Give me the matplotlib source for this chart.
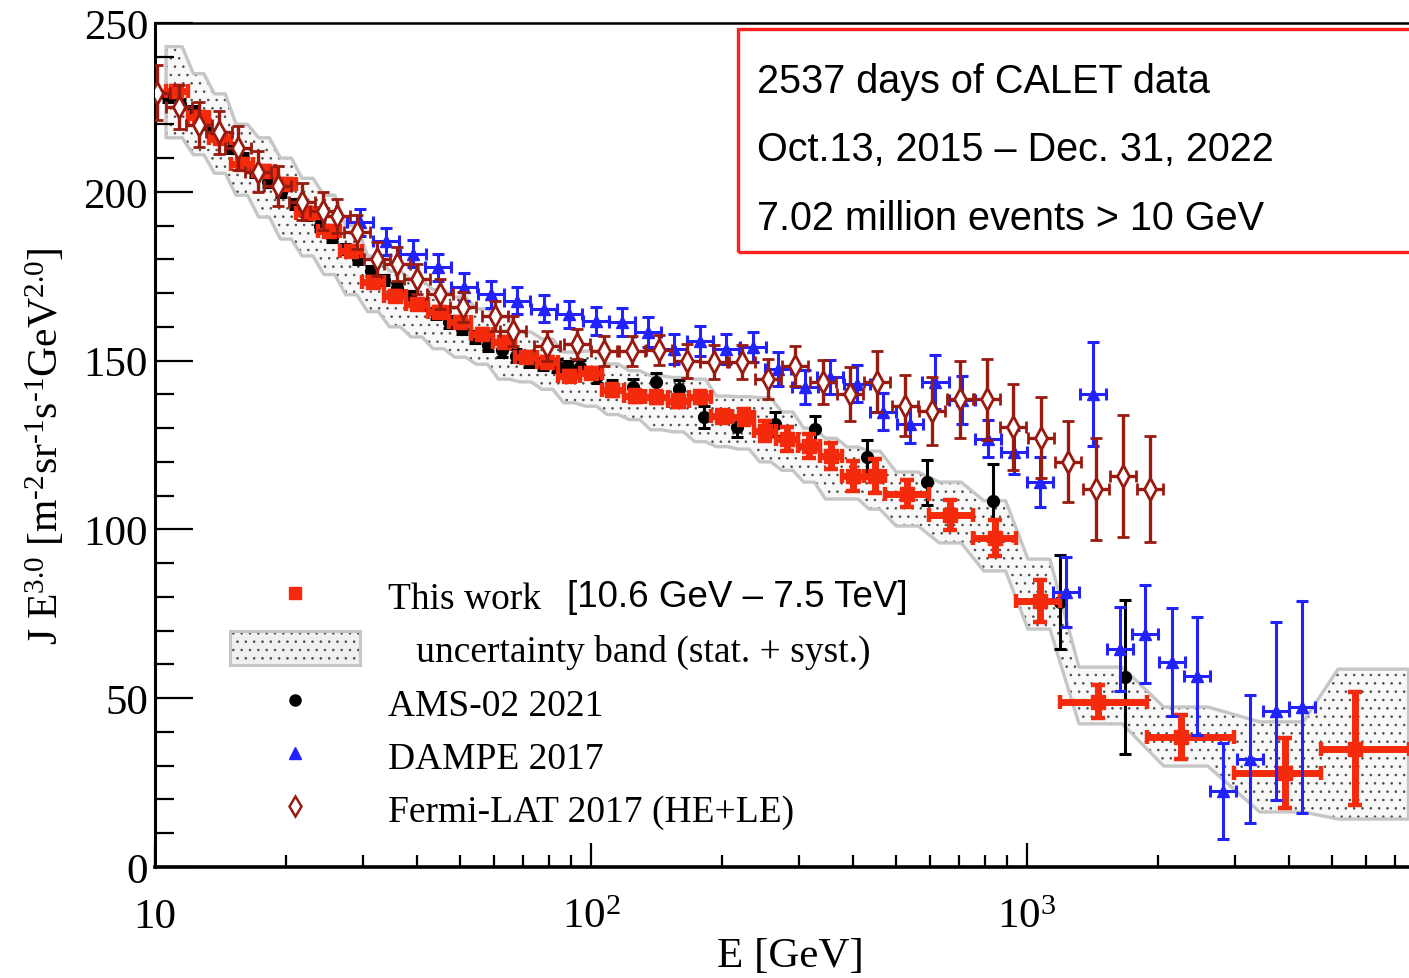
import numpy as np
import matplotlib
matplotlib.use("Agg")
import matplotlib.pyplot as plt
from matplotlib.patches import Patch, Rectangle
from matplotlib.lines import Line2D
from matplotlib.ticker import FixedLocator, FuncFormatter, LogLocator, MultipleLocator, NullFormatter

# ---- CALET (this work): bin centres, bin edges, flux x E^3, errors, uncertainty band
calet_e = [11.2, 12.6, 14.1, 15.8, 17.8, 20.0, 22.4, 25.1, 28.2, 31.6,
           35.5, 39.8, 44.7, 50.1, 56.2, 63.1, 70.8, 79.4, 89.1, 100,
           112, 126, 141, 158, 178, 200, 224, 251, 282, 316,
           355, 398, 447, 531, 665, 845, 1070, 1455, 2255, 3908, 5649]
calet_edges = [10.6, 11.9, 13.3, 14.9, 16.8, 18.8, 21.1, 23.7, 26.6, 29.9,
               33.5, 37.6, 42.2, 47.3, 53.1, 59.6, 66.8, 75.0, 84.1, 94.4,
               106, 119, 133, 150, 168, 188, 211, 237, 266, 299,
               335, 376, 422, 473, 596, 750, 944, 1190, 1880, 2990, 4730, 7500]
calet_j = [229.9, 222.2, 216.0, 208.2, 206.2, 202.3, 193.8, 188.4, 182.5, 173.3,
           169.1, 166.8, 164.4, 161.4, 157.9, 155.5, 151.1, 149.6, 145.4, 146.4,
           141.3, 139.5, 139.3, 138.0, 139.2, 133.5, 133.3, 129.1, 126.8, 124.7,
           121.7, 115.8, 115.8, 110.5, 104.3, 97.5, 78.8, 48.9, 38.5, 27.8, 35.1]
calet_err = [1.5, 1.5, 1.5, 1.5, 1.5, 1.5, 1.5, 1.5, 1.5, 1.5,
             1.5, 1.5, 1.5, 1.5, 1.5, 1.5, 1.5, 1.5, 1.5, 1.5,
             1.8, 1.8, 1.8, 1.8, 1.8, 2.0, 2.5, 3.0, 3.5, 3.5,
             3.8, 4.5, 5.0, 4.0, 4.4, 5.4, 6.3, 4.9, 6.4, 10.3, 16.6]
band_hi = [243, 235, 229, 220, 216, 210, 204, 199, 190, 181,
           176.5, 174, 171, 168.8, 165.3, 163, 158.5, 156.4, 152.5, 152.8,
           149, 147, 145.5, 145, 144.5, 139.5, 139.3, 139, 134.8, 130,
           127, 124.4, 123.2, 117, 114, 108.5, 91.2, 59.2, 47.4, 43.0, 58.6]
band_lo = [216, 211, 205.5, 199, 192.5, 186, 181, 175.5, 169.5, 164.5,
           160, 157, 153.5, 151, 148.9, 144.5, 143.7, 141.5, 137.5, 136.5,
           134, 132.5, 129.5, 128.9, 126, 124.5, 123.8, 120, 117.5, 114,
           109, 109, 106, 101, 96, 87.7, 70.5, 42.4, 29.9, 16.3, 14.2]

# ---- AMS-02 2021
ams_e = [10.7, 11.4, 12.2, 13.0, 13.9, 14.9, 15.9, 17.0, 18.2, 19.5,
         20.9, 22.3, 23.9, 25.5, 27.3, 29.2, 31.3, 33.5, 35.9, 38.4,
         41.1, 44.0, 47.2, 50.5, 54.1, 58.1, 62.5, 67.2, 72.2, 77.6,
         83.4, 88.5, 94.4, 103, 112, 125, 141, 159, 182, 216,
         264, 326, 430, 590, 836, 1190, 1680]
ams_j = [228, 226, 224, 220, 217, 213, 210, 206, 203, 200,
         196.5, 193, 190, 186.5, 183, 180, 176.5, 174, 171.5, 169,
         166.5, 164, 161.5, 159.5, 157, 154.5, 153, 151.5, 150, 149,
         148.5, 148, 148.1, 145.4, 142, 142.2, 143.7, 141.6, 133.3, 130.3,
         131.2, 129.7, 121.4, 114.0, 108.4, 78.5, 56.3]
ams_err = [1.5, 1.5, 1.5, 1.5, 1.5, 1.5, 1.5, 1.5, 1.5, 1.5,
           1.5, 1.5, 1.5, 1.5, 1.5, 1.5, 1.5, 1.5, 1.6, 1.6,
           1.6, 1.6, 1.7, 1.7, 1.7, 1.8, 1.8, 1.8, 1.9, 1.9,
           2.0, 2.0, 2.0, 2.0, 2.2, 2.4, 2.6, 2.8, 3.3, 3.0,
           3.5, 4.0, 5.0, 6.7, 11.0, 14.0, 22.7]

# ---- DAMPE 2017
dampe_e = [29.5, 33.9, 39.1, 44.6, 51.2, 59.0, 67.6, 78.0, 89.1, 102.6,
           117.8, 135.2, 154.9, 177.8, 204, 235.5, 268.5, 309.7, 353.2, 407.4,
           467.7, 539.5, 616.6, 707.9, 812.8, 933.3, 1071.5, 1230, 1415.8, 1633,
           1862, 2153, 2455, 2818, 3243, 3724, 4276]
dampe_j = [191, 185.4, 181.6, 177.7, 171.8, 169.7, 167.7, 165.3, 163.8, 161.7,
           161.4, 158.5, 153.4, 155.8, 153.4, 154, 147.5, 142.2, 145.1, 143.1,
           134.8, 131.2, 143.7, 138.3, 126.8, 122.9, 114, 81.5, 140.1, 64.6,
           69, 60.7, 56.6, 22.5, 32, 46.2, 47.4]
dampe_err = [4, 4, 4, 4, 4, 4, 4, 4, 4, 4.2,
             4.2, 4.5, 4.5, 4.5, 4.5, 4.5, 5, 5, 5, 5.5,
             5.5, 5.5, 8, 7, 5.5, 6.5, 7.5, 10.3, 15.5, 12.5,
             14.5, 16, 17.5, 14.2, 19, 26.5, 31.4]

# ---- Fermi-LAT 2017 (HE+LE)
fermi_e = [10.1, 11.35, 12.6, 14.0, 15.5, 17.2, 19.1, 21.7, 24.3, 26.1,
           29.0, 32.3, 35.9, 39.9, 45.1, 50.8, 60.3, 66.2, 79.3, 92.9,
           107, 124, 143, 166, 191, 222, 255, 294, 340, 393,
           453, 525, 605, 701, 809, 929, 1076, 1242, 1439, 1660, 1914]
fermi_j = [229.4, 225.0, 219.9, 217.6, 213.0, 206.0, 201.7, 197.0, 194.3, 192.8,
           188.0, 180.0, 178.6, 174.2, 169.7, 165.9, 163.2, 158.8, 154.3, 154.9,
           152.8, 152.8, 153.2, 149.9, 149.6, 149.6, 144.5, 148.4, 143.7, 140.1,
           143.7, 136.6, 135.1, 138.6, 138.6, 130.3, 127.1, 120.0, 112.0, 115.8, 112.0]
fermi_err = [8.2, 6.5, 6.7, 6.4, 6.4, 6.0, 6.0, 5.5, 5.5, 5.0,
             5.0, 5.0, 5.0, 4.5, 4.5, 4.5, 4.5, 4.5, 4.5, 4.5,
             4.5, 4.5, 4.5, 5.0, 5.0, 5.0, 6.0, 6.0, 6.5, 8.0,
             9.0, 9.0, 10.0, 11.4, 12.0, 12.8, 12.0, 12.0, 15.0, 18.0, 15.8]

info_lines = ["2537 days of CALET data",
              "Oct.13, 2015 \u2013 Dec. 31, 2022",
              "7.02 million events > 10 GeV"]

RED = "#f42a0c"
BLUE = "#2222ff"
DKRED = "#991a0e"
W, H = 1409, 979

plt.rcParams["font.family"] = ["Liberation Serif", "DejaVu Serif"]
plt.rcParams["mathtext.fontset"] = "custom"
plt.rcParams["mathtext.rm"] = "Liberation Serif"
plt.rcParams["mathtext.it"] = "Liberation Serif:italic"
plt.rcParams["hatch.linewidth"] = 0.6

fig = plt.figure(figsize=(W / 100, H / 100), dpi=100)
ax = fig.add_axes([155 / W, 1 - 868 / H, (1425 - 155) / W, (868 - 24) / H])


def logsym(e, dlog=0.03):
    e = np.asarray(e, float)
    return [e * (1 - 10 ** -dlog), e * (10 ** dlog - 1)]


# uncertainty band: flat over the middle of each bin, slanted between bins
lc = np.log10(calet_e)
le = np.log10(calet_edges)
bx, bh, bl = [], [], []
n = len(lc)
for i in range(n):
    a = le[i] if i == 0 else lc[i] - 0.5 * (lc[i] - le[i])
    b = le[i + 1] if i == n - 1 else lc[i] + 0.5 * (le[i + 1] - lc[i])
    bx += [a, b]
    bh += [band_hi[i]] * 2
    bl += [band_lo[i]] * 2
bx = 10 ** np.array(bx)
ax.fill_between(bx, bl, bh, facecolor="#f8f8f8", edgecolor="#4a4a4a",
                hatch="..", linewidth=0, zorder=1)
ax.fill_between(bx, bl, bh, facecolor="none", edgecolor="#c6c6c6",
                linewidth=2.4, zorder=1.5)

ce = np.array(calet_e)
ed = np.array(calet_edges)
ax.errorbar(ams_e, ams_j, yerr=ams_err, fmt="o", ms=8.5, color="black",
            elinewidth=2.2, capsize=4, capthick=2.2, zorder=3)
ax.errorbar(calet_e, calet_j, yerr=calet_err, xerr=[ce - ed[:-1], ed[1:] - ce],
            fmt="s", ms=10.5, color=RED, elinewidth=5, capsize=5, capthick=3.2,
            zorder=4)
ax.errorbar(dampe_e, dampe_j, yerr=dampe_err, xerr=logsym(dampe_e), fmt="^",
            ms=9, color=BLUE, elinewidth=2.2, capsize=4.5, capthick=2.2, zorder=5)
ax.errorbar(fermi_e, fermi_j, yerr=fermi_err, xerr=logsym(fermi_e), fmt="d",
            ms=11, color=DKRED, mfc="white", mec=DKRED, mew=2,
            elinewidth=2.4, capsize=4.5, capthick=2.4, zorder=6)

ax.set_xscale("log")
ax.set_xlim(10, 10 ** (1 + (1425 - 155) / 436))
ax.set_ylim(0, 250)
ax.xaxis.set_major_locator(FixedLocator([10, 100, 1000]))
ax.xaxis.set_minor_locator(LogLocator(base=10, subs=np.arange(2, 10), numticks=20))
ax.xaxis.set_minor_formatter(NullFormatter())
ax.xaxis.set_major_formatter(FuncFormatter(
    lambda v, p: "10" if v < 50 else r"$\mathregular{10^{%d}}$" % round(np.log10(v))))
ax.yaxis.set_major_locator(MultipleLocator(50))
ax.yaxis.set_minor_locator(MultipleLocator(10))

ax.tick_params(axis="x", which="major", direction="in", length=17, width=1.6,
               labelsize=31, pad=22)
ax.tick_params(axis="x", which="minor", direction="in", length=8.6, width=1.6)
ax.tick_params(axis="y", which="major", direction="in", length=27, width=1.6,
               labelsize=31, pad=5)
ax.tick_params(axis="y", which="minor", direction="in", length=14, width=1.6)
ax.spines["right"].set_visible(False)
ax.spines["left"].set_linewidth(2.2)
ax.spines["bottom"].set_linewidth(2.6)
ax.spines["top"].set_linewidth(1.8)

ax.set_xlabel("E [GeV]", fontsize=31, labelpad=0)
ax.set_ylabel("$\\mathregular{J\\ E^{3.0}\\ [m^{\u20102}sr^{\u20101}s^{\u20101}GeV^{2.0}]}$",
              fontsize=30, labelpad=12)

# info box (cropped on the right like the original)
fig.add_artist(Rectangle((738 / W, 1 - 253 / H), (1500 - 738) / W, (253 - 30) / H,
                         transform=fig.transFigure, fill=False,
                         edgecolor="#ff2020", linewidth=2.4, clip_on=False))
for k, line in enumerate(info_lines):
    fig.text(757 / W, 1 - (82 + 68.5 * k) / H, line, fontsize=28.5,
             family="Liberation Sans", va="center", ha="left")

# legend
h_calet = Line2D([], [], ls="none", marker="s", ms=8, color=RED)
h_band = (Patch(facecolor="#f0f0f0", edgecolor="#4a4a4a", hatch="..", linewidth=0),
          Patch(facecolor="none", edgecolor="#c6c6c6", linewidth=2.2))
h_ams = Line2D([], [], ls="none", marker="o", ms=8, color="black")
h_dampe = Line2D([], [], ls="none", marker="^", ms=8, color=BLUE)
h_fermi = Line2D([], [], ls="none", marker="d", ms=10, color=DKRED,
                 mfc="white", mew=1.8)
ax.legend([h_calet, h_band, h_ams, h_dampe, h_fermi],
          ["This work", "   uncertainty band (stat. + syst.)", "AMS-02 2021",
           "DAMPE 2017", "Fermi-LAT 2017 (HE+LE)"],
          loc="upper left", bbox_to_anchor=(230 / W, 1 - 579 / H),
          bbox_transform=fig.transFigure, frameon=False, fontsize=27,
          handlelength=3.47, handleheight=1.0, handletextpad=0.75,
          labelspacing=0.42, borderpad=0, borderaxespad=0)
fig.text(567 / W, 1 - 598 / H, "[10.6 GeV \u2013 7.5 TeV]", fontsize=26.5,
         family="Liberation Sans", va="center", ha="left")

fig.savefig("out.png", dpi=100)
